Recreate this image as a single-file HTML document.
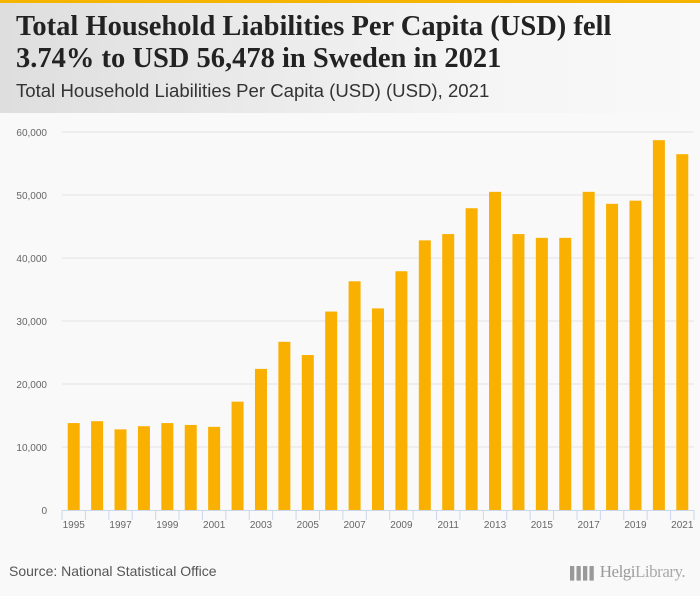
<!DOCTYPE html>
<html><head><meta charset="utf-8"><style>
body{margin:0;width:700px;height:596px;background:#f9f9f9;font-family:"Liberation Sans",sans-serif;overflow:hidden;position:relative}
#hdr{position:absolute;left:0;top:0;width:700px;height:113px;background:linear-gradient(90deg,#dedede,#f5f5f5 70%,#f9f9f9);border-top:3px solid #f5b400;box-sizing:border-box}
#title{position:absolute;left:16px;top:11px;font-family:"Liberation Serif",serif;font-weight:bold;font-size:28.5px;line-height:32px;color:#222;white-space:nowrap}
#sub{position:absolute;left:16px;top:80px;font-size:18.6px;color:#333;white-space:nowrap}
#src{position:absolute;left:9px;top:563px;font-size:14px;color:#555}
#logo{position:absolute;left:570px;top:562px;font-family:"Liberation Serif",serif;font-size:17px;color:#999;white-space:nowrap;letter-spacing:-0.5px}
</style></head><body>
<div id="hdr"></div>
<div id="title">Total Household Liabilities Per Capita (USD) fell<br>3.74% to USD 56,478 in Sweden in 2021</div>
<div id="sub">Total Household Liabilities Per Capita (USD) (USD), 2021</div>
<svg id="chart" width="700" height="596" style="position:absolute;left:0;top:0"></svg>
<div id="src">Source: National Statistical Office</div>
<div id="logo"><span style="font-size:12px;letter-spacing:-2px">▌▌▌▌</span> Helgi<span style="color:#aaa">Library.</span></div>
<script>
const years=[1995,1996,1997,1998,1999,2000,2001,2002,2003,2004,2005,2006,2007,2008,2009,2010,2011,2012,2013,2014,2015,2016,2017,2018,2019,2020,2021];
const values=[13800,14100,12800,13300,13800,13500,13200,17200,22400,26700,24600,31500,36300,32000,37900,42800,43800,47900,50500,43800,43200,43200,50500,48600,49100,58700,56478];
const yTicks=[0,10000,20000,30000,40000,50000,60000];
const NS="http://www.w3.org/2000/svg";
const svg=document.getElementById('chart');
const x0=62,x1=694,yb=510,yt=132,ymax=60000;
const band=(x1-x0)/years.length;
const y=v=>yb-(v/ymax)*(yb-yt);
const xc=i=>x0+band*(i+0.5);
function mk(t,a){const e=document.createElementNS(NS,t);for(const k in a)e.setAttribute(k,a[k]);svg.appendChild(e);return e;}
yTicks.forEach(v=>{
  if(v>0){const g=mk('line',{x1:x0,x2:x1,y1:y(v),y2:y(v),stroke:'#e3e3e3','stroke-width':1});
  
  }
  const t=mk('text',{x:47,y:y(v)+4,'text-anchor':'end','font-size':10,fill:'#666','font-family':'Liberation Sans, sans-serif'});
  t.textContent=v.toLocaleString('en-US');
  
  
});
values.forEach((v,i)=>{
  const r=mk('rect',{x:xc(i)-6,y:y(v),width:12,height:yb-y(v),fill:'#f9b000'});
  
  
});
const ax=mk('line',{x1:x0,x2:x1,y1:yb+0.5,y2:yb+0.5,stroke:'#ccd6eb'});


for(let i=0;i<=years.length;i++){
  const tk=mk('line',{x1:x0+band*i,x2:x0+band*i,y1:yb,y2:yb+10,stroke:'#ccd6eb'});
  
  
}
years.forEach((yr,i)=>{
  if(i%2)return;
  const t=mk('text',{x:xc(i),y:528,'text-anchor':'middle','font-size':10,fill:'#666','font-family':'Liberation Sans, sans-serif'});
  t.textContent=yr;
  
  
});
</script>
</body></html>
